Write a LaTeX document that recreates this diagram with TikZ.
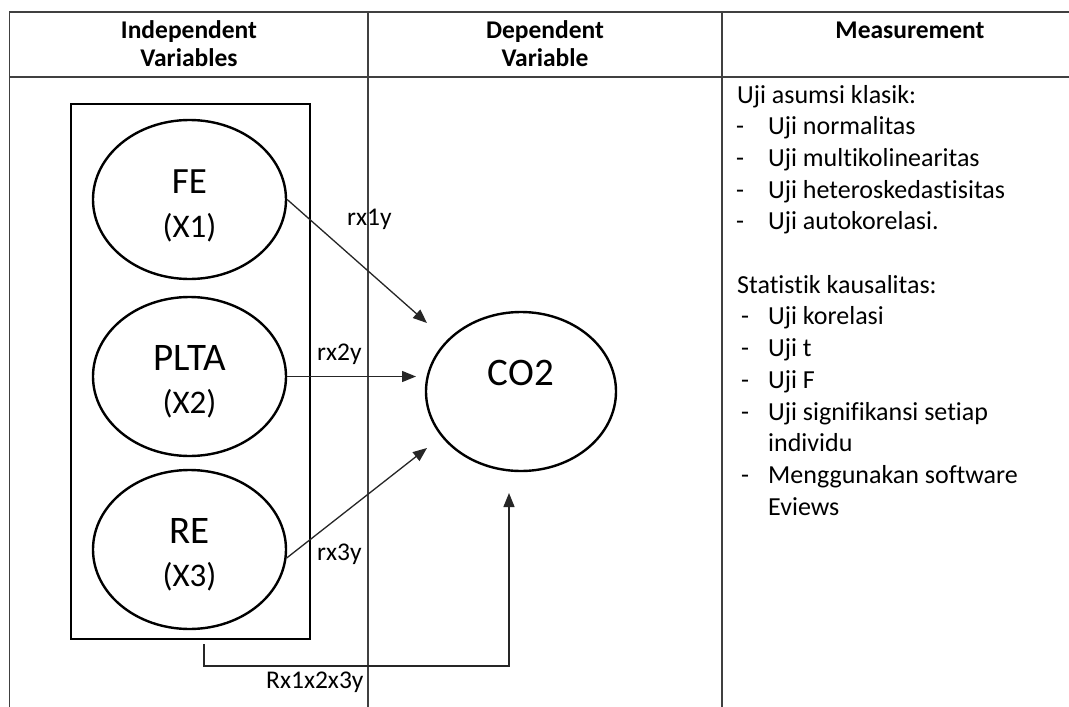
\documentclass[tikz,border=0pt]{standalone}
\usepackage{fontspec}
\setmainfont{Carlito}[Ligatures={NoCommon,NoContextual}]
\usetikzlibrary{arrows.meta,shapes.geometric}
\begin{document}
\begin{tikzpicture}[x=1pt,y=-1pt,
  tbl/.style={line width=1.4pt, draw=black!75},
  var/.style={draw, ellipse, line width=2.4pt, minimum width=193pt, minimum height=159pt, inner sep=0pt},
  conn/.style={line width=1.3pt, draw=black!85, -{Triangle[length=14pt,width=11pt]}},
  lbl/.style={anchor=base west, inner sep=0pt, font=\fontsize{25.5}{30}\selectfont},
  hdr/.style={anchor=base, inner sep=0pt, font=\fontsize{25.5}{28.5}\selectfont\bfseries},
  body/.style={anchor=base west, inner sep=0pt, font=\fontsize{26}{31.7}\selectfont},
  big/.style={anchor=base, inner sep=0pt, font=\fontsize{39}{42}\selectfont},
  small/.style={anchor=base, inner sep=0pt, font=\fontsize{33}{36}\selectfont}]
\useasboundingbox (0,0) rectangle (1069,707);
\fill[white] (0,0) rectangle (1069,707);
% table
\draw[tbl] (9.5,707) -- (9.5,12) -- (1069,12);
\draw[tbl] (9.5,77) -- (1069,77);
\draw[tbl] (368,12) -- (368,707);
\draw[tbl] (722,12) -- (722,707);
% headers
\node[hdr] (h1a) at (189,38) {Independent};
\node[hdr] (h1b) at (189,66.5) {Variables};
\node[hdr] (h2a) at (545,38) {Dependent};
\node[hdr] (h2b) at (545,66.5) {Variable};
\node[hdr] (h3) at (910,38) {Measurement};
% box and variables
\node[draw, line width=2.8pt, minimum width=239pt, minimum height=535pt, inner sep=0pt] (box) at (190.5,371.5) {};
\node[var] (fe) at (189.5,199.5) {};
\node[var] (plta) at (189.5,376.5) {};
\node[var] (re) at (189.5,549.5) {};
\node[var, minimum width=190pt] (co2) at (521,391.5) {};
\node[big, font=\fontsize{37}{40}\selectfont] (tfe) at (189.5,193) {FE};
\node[small] (tx1) at (189.5,237) {(X1)};
\node[big] (tplta) at (189.5,370.5) {PLTA};
\node[small] (tx2) at (189.5,413) {(X2)};
\node[big] (tre) at (189.5,543.5) {RE};
\node[small] (tx3) at (189.5,586) {(X3)};
\node[big] (tco2) at (521,385.5) {CO2};
% connectors
\coordinate (t1) at (427,323);
\coordinate (t2) at (416,376.5);
\coordinate (t3) at (427,448);
\coordinate (s4) at (204,644);
\coordinate (t4) at (509,493);
\draw[conn] (fe.east) -- (t1);
\draw[conn] (plta.east) -- (t2);
\draw[conn] (re.-5) -- (t3);
\draw[conn] (s4) -- ++(0,22) -| (t4);
\node[lbl] (l1) at (347,225) {rx1y};
\node[lbl] (l2) at (317,360) {rx2y};
\node[lbl] (l3) at (317,560) {rx3y};
\node[lbl] (l4) at (266,688) {Rx1x2x3y};
% measurement text
\node[body] (m0) at (737,103) {Uji asumsi klasik:};
\foreach \k/\t [count=\i] in {1/Uji normalitas, 2/Uji multikolinearitas, 3/Uji heteroskedastisitas, 4/Uji autokorelasi.}{
  \node[body] (d\i) at (736,103+31.7*\k) {-};
  \node[body] (a\i) at (768,103+31.7*\k) {\t};
}
\node[body] (m6) at (737,103+31.7*6) {Statistik kausalitas:};
\foreach \k/\t [count=\i] in {7/Uji korelasi, 8/Uji t, 9/Uji F, 10/Uji signifikansi setiap, 12/Menggunakan software}{
  \node[body] (e\i) at (741,103+31.7*\k) {-};
  \node[body] (b\i) at (768,103+31.7*\k) {\t};
}
\node[body] (m11) at (768,103+31.7*11) {individu};
\node[body] (m13) at (768,103+31.7*13) {Eviews};
\end{tikzpicture}
\end{document}
